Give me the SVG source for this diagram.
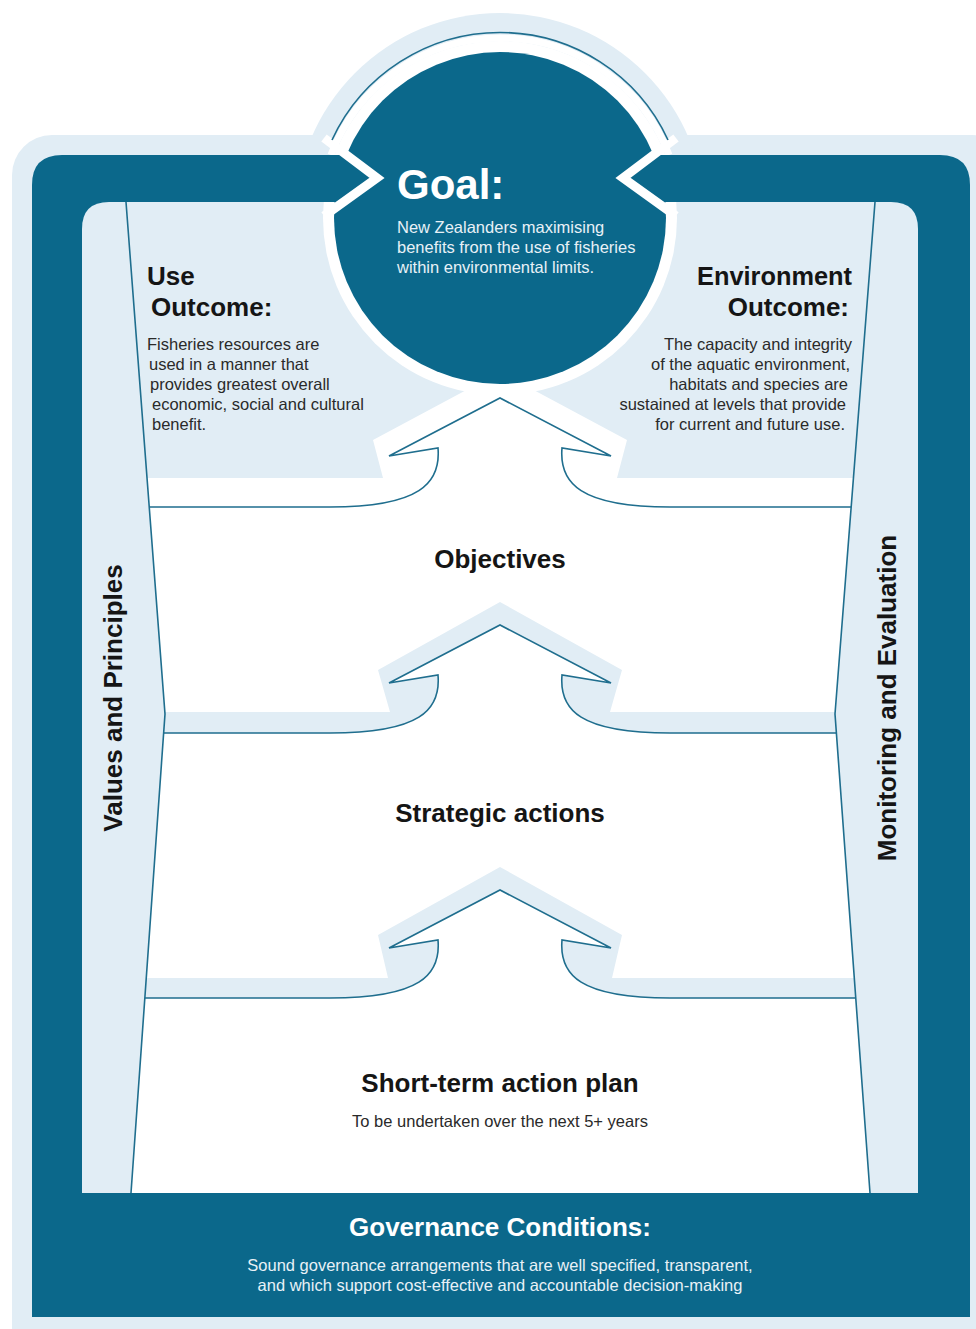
<svg xmlns="http://www.w3.org/2000/svg" width="976" height="1329" viewBox="0 0 976 1329">
<style>
.dark{fill:#0b688b}
.light{fill:#e1edf5}
.ln{fill:none;stroke:#1f6e8e;stroke-width:1.6}
.arrow{fill:#ffffff;stroke:#1f6e8e;stroke-width:1.6}
.h{font-family:"Liberation Sans",Arial,sans-serif;font-weight:bold;font-size:26px;fill:#151515}
.b{font-family:"Liberation Sans",Arial,sans-serif;font-size:16.5px;fill:#2a2a2a}
.wh{font-family:"Liberation Sans",Arial,sans-serif;font-weight:bold;fill:#ffffff}
.wb{font-family:"Liberation Sans",Arial,sans-serif;font-size:16.5px;fill:#e8f1f7}
.mid{text-anchor:middle}
.end{text-anchor:end}
</style>
<rect width="976" height="1329" fill="#ffffff"/>
<g id="frame">
<rect class="light" x="12" y="135" width="1000" height="1240" rx="40"/>
<circle class="light" cx="500" cy="218" r="205"/>
<path class="dark" d="M32,1317 L32,185 Q32,155 62,155 L940,155 Q970,155 970,185 L970,1317 Z"/>
<path class="light" d="M82,1193 L82,229 Q82,202 109,202 L891,202 Q918,202 918,229 L918,1193 Z"/>
</g>
<g id="sections">
<polygon fill="#ffffff" points="149.2,507 165,714 131,1193 870,1193 835,714 851.2,507"/>
<polygon fill="#ffffff" points="147,478 383,478 373,440 500,372 627,440 617,478 853.4,478 851.2,507 149.2,507"/>
<polygon class="light" points="164.8,712 390,712 378,670 500,602 622,670 610,712 835.2,712 836.4,733 163.7,733"/>
<polygon class="light" points="146.3,978 388,978 378,935 500,867 622,935 612,978 854.3,978 855.7,998 145,998"/>
</g>
<circle cx="500" cy="218" r="177" fill="#ffffff"/>
<path d="M331,155 A180.5,180.5 0 0 1 669,155" fill="none" stroke="#ffffff" stroke-width="7"/>
<g id="connectors">
<path class="arrow" d="M149.2,507 L330,507 C420,507 441,483 438,448 L389,456 L500,398 L611,456 L562,448 C559,483 580,507 670,507 L851.2,507"/>
<path class="arrow" d="M163.7,733 L330,733 C420,733 441,710 438,675 L389,683 L500,625 L611,683 L562,675 C559,710 580,733 670,733 L836.4,733"/>
<path class="arrow" d="M145,998 L330,998 C420,998 441,975 438,940 L389,948 L500,890 L611,948 L562,940 C559,975 580,998 670,998 L855.7,998"/>
<polyline class="ln" points="126,202 165,714 131,1193"/>
<polyline class="ln" points="875,202 835,714 870,1193"/>
</g>
<g id="goal">
<circle class="dark" cx="500" cy="218" r="166"/>
<polygon class="dark" points="290,155 346,155 377,178 342,202 290,202"/>
<polygon class="dark" points="710,155 654,155 623,178 658,202 710,202"/>
<polyline points="324,138 377,178 324,216" fill="none" stroke="#ffffff" stroke-width="9" stroke-linejoin="miter"/>
<polyline points="676,138 623,178 676,216" fill="none" stroke="#ffffff" stroke-width="9" stroke-linejoin="miter"/>
<path class="ln" d="M332,140 A185,185 0 0 1 668,140"/>
<text class="wh" x="397" y="199" font-size="42">Goal:</text>
<text class="wb" x="397" y="233">New Zealanders maximising</text>
<text class="wb" x="397" y="253">benefits from the use of fisheries</text>
<text class="wb" x="397" y="273">within environmental limits.</text>
</g>
<g id="use-outcome">
<text class="h" x="147" y="285">Use</text>
<text class="h" x="151" y="316">Outcome:</text>
<text class="b" x="147" y="350">Fisheries resources are</text>
<text class="b" x="149" y="370">used in a manner that</text>
<text class="b" x="150" y="390">provides greatest overall</text>
<text class="b" x="152" y="410">economic, social and cultural</text>
<text class="b" x="152" y="430">benefit.</text>
</g>
<g id="environment-outcome">
<text class="h end" x="852" y="285" textLength="155" lengthAdjust="spacingAndGlyphs">Environment</text>
<text class="h end" x="849" y="316">Outcome:</text>
<text class="b end" x="852" y="350">The capacity and integrity</text>
<text class="b end" x="850" y="370">of the aquatic environment,</text>
<text class="b end" x="848" y="390">habitats and species are</text>
<text class="b end" x="846" y="410">sustained at levels that provide</text>
<text class="b end" x="845" y="430">for current and future use.</text>
</g>
<g id="objectives"><text class="h mid" x="500" y="568">Objectives</text></g>
<g id="strategic-actions"><text class="h mid" x="500" y="822">Strategic actions</text></g>
<g id="short-term-plan">
<text class="h mid" x="500" y="1092">Short-term action plan</text>
<text class="b mid" x="500" y="1127">To be undertaken over the next 5+ years</text>
</g>
<g id="values-principles"><text class="h mid" transform="translate(122,698) rotate(-90)">Values and Principles</text></g>
<g id="monitoring-evaluation"><text class="h mid" transform="translate(896,698) rotate(-90)">Monitoring and Evaluation</text></g>
<g id="governance">
<text class="wh mid" x="500" y="1236" font-size="26">Governance Conditions:</text>
<text class="wb mid" x="500" y="1271">Sound governance arrangements that are well specified, transparent,</text>
<text class="wb mid" x="500" y="1291">and which support cost-effective and accountable decision-making</text>
</g>
</svg>
